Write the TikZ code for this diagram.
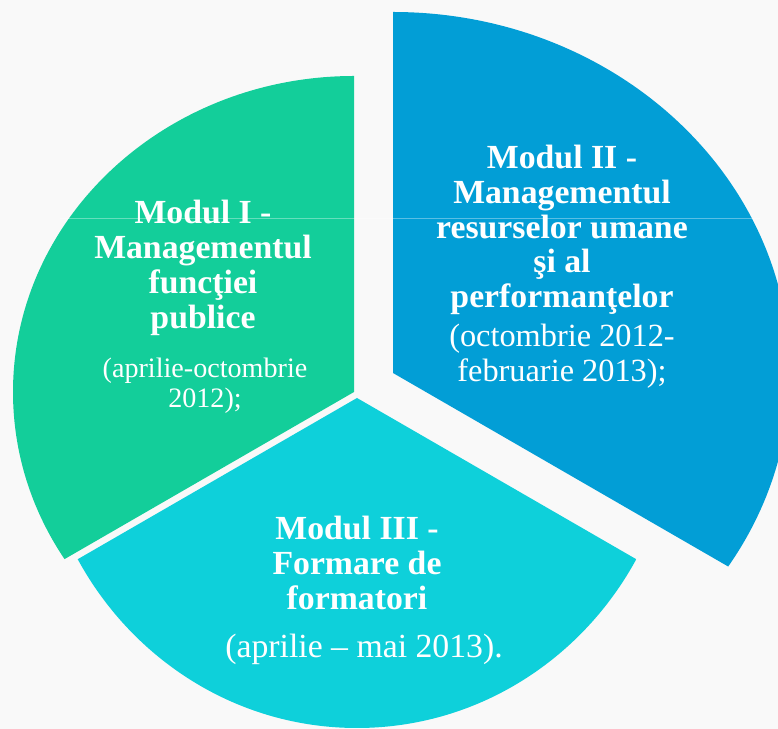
\documentclass[tikz,border=0pt]{standalone}
\usepackage{fontspec}
\setmainfont{Liberation Serif}
\usetikzlibrary{calc}
\definecolor{modgreen}{RGB}{19,206,154}
\definecolor{modteal}{RGB}{14,208,218}
\definecolor{modblue}{RGB}{2,158,214}
\definecolor{bgpaper}{RGB}{249,249,249}
\def\pieslice[#1](#2)(#3:#4:#5:#6){\begin{scope}\clip (#2) -- ($(#2)+(#3:900)$) -- ($(#2)+({(#3+#4)/2}:900)$) -- ($(#2)+(#4:900)$) -- cycle;\fill[#1] (#2) ellipse [x radius=#5, y radius=#6];\end{scope}}
\tikzset{
	title/.style={text=white, align=center, font=\fontsize{24}{24.8}\selectfont\bfseries},
	dates/.style={text=white, align=center, font=\fontsize{23}{24.8}\selectfont}
}

\begin{document}
\begin{tikzpicture}[x=0.025cm, y=0.025cm]
			%%%%% START %%%%%
			
			\useasboundingbox (0, 0) rectangle (778, 729);
			\clip (0, 0) rectangle (778, 729);
			\fill[bgpaper] (0, 0) rectangle (778, 729);
			
			\coordinate (g) at (354, 337);
			\coordinate (t) at (357, 331);
			\coordinate (b) at (393, 356);
			
			\pieslice[modgreen](g)(90:210:341:316)
			\pieslice[modteal](t)(210:330:320:330)
			\pieslice[modblue](b)(-30:90:397:361)
			
			\draw[white, opacity=0.35, line width=0.6pt] (60, 511) -- (760, 511);
			
			\node[title] (m1title) at (203, 461) {Modul I -\\Managementul\\funcţiei\\publice};
			\node[dates, font=\fontsize{20}{21.3}\selectfont] (m1dates) at (205, 343) {(aprilie-octombrie\\2012);};
			
			\node[title] (m2title) at (562, 499) {Modul II -\\Managementul\\resurselor umane\\şi al\\performanţelor};
			\node[dates] (m2dates) at (562, 373) {(octombrie 2012-\\februarie 2013);};
			
			\node[title] (m3title) at (357, 166) {Modul III -\\Formare de\\formatori};
			\node[dates, font=\fontsize{24}{24.8}\selectfont] (m3dates) at (364, 80) {(aprilie – mai 2013).};
			
			%%%%% END %%%%%
		\end{tikzpicture}
\end{document}
